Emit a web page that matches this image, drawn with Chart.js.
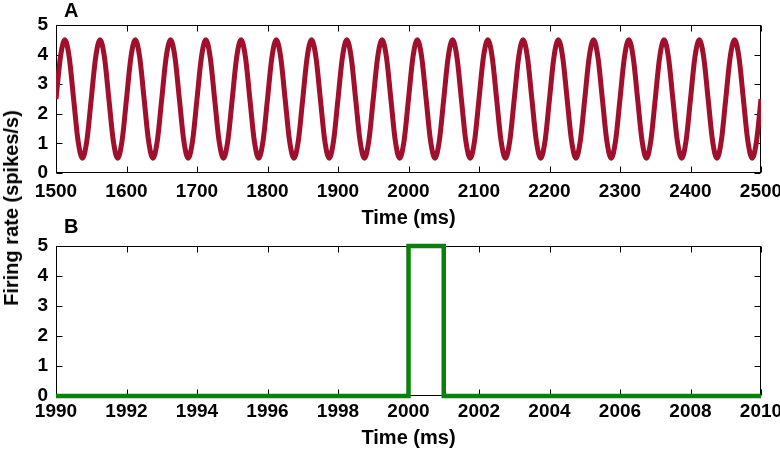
<!DOCTYPE html>
<html>
<head>
<meta charset="utf-8">
<script src="https://cdn.jsdelivr.net/npm/chart.js@4.4.0/dist/chart.umd.min.js"></script>
<style>
  body { margin: 0; background: #fff; }
  #wrap { position: relative; width: 780px; height: 451px; font-family: "Liberation Sans", Arial, sans-serif; font-weight: bold; color: #000; }
  canvas { position: absolute; left: 0; }
  #cvA { top: 0; }
  #cvB { top: 230px; }
  #ylab { position: absolute; left: 11px; top: 208px; font-size: 20px; line-height: 1; white-space: nowrap;
          transform: translate(-50%, -50%) rotate(-90deg); }
</style>
</head>
<body>
<div id="wrap">
  <canvas id="cvA" width="780" height="230"></canvas>
  <canvas id="cvB" width="780" height="221"></canvas>
  <div style="position:absolute;left:64px;top:0px;font-size:20px;line-height:1;font-weight:bold">A</div>
  <div style="position:absolute;left:64px;top:216px;font-size:20px;line-height:1;font-weight:bold">B</div>
  <div id="ylab">Firing rate (spikes/s)</div>
</div>
<script>
// panel A: tasa oscilante (8 puntos por ciclo de 50 ms)
const timeA = [
  1500, 1506.25, 1512.5, 1518.75, 1525, 1531.25, 1537.5, 1543.75,
  1550, 1556.25, 1562.5, 1568.75, 1575, 1581.25, 1587.5, 1593.75,
  1600, 1606.25, 1612.5, 1618.75, 1625, 1631.25, 1637.5, 1643.75,
  1650, 1656.25, 1662.5, 1668.75, 1675, 1681.25, 1687.5, 1693.75,
  1700, 1706.25, 1712.5, 1718.75, 1725, 1731.25, 1737.5, 1743.75,
  1750, 1756.25, 1762.5, 1768.75, 1775, 1781.25, 1787.5, 1793.75,
  1800, 1806.25, 1812.5, 1818.75, 1825, 1831.25, 1837.5, 1843.75,
  1850, 1856.25, 1862.5, 1868.75, 1875, 1881.25, 1887.5, 1893.75,
  1900, 1906.25, 1912.5, 1918.75, 1925, 1931.25, 1937.5, 1943.75,
  1950, 1956.25, 1962.5, 1968.75, 1975, 1981.25, 1987.5, 1993.75,
  2000, 2006.25, 2012.5, 2018.75, 2025, 2031.25, 2037.5, 2043.75,
  2050, 2056.25, 2062.5, 2068.75, 2075, 2081.25, 2087.5, 2093.75,
  2100, 2106.25, 2112.5, 2118.75, 2125, 2131.25, 2137.5, 2143.75,
  2150, 2156.25, 2162.5, 2168.75, 2175, 2181.25, 2187.5, 2193.75,
  2200, 2206.25, 2212.5, 2218.75, 2225, 2231.25, 2237.5, 2243.75,
  2250, 2256.25, 2262.5, 2268.75, 2275, 2281.25, 2287.5, 2293.75,
  2300, 2306.25, 2312.5, 2318.75, 2325, 2331.25, 2337.5, 2343.75,
  2350, 2356.25, 2362.5, 2368.75, 2375, 2381.25, 2387.5, 2393.75,
  2400, 2406.25, 2412.5, 2418.75, 2425, 2431.25, 2437.5, 2443.75,
  2450, 2456.25, 2462.5, 2468.75, 2475, 2481.25, 2487.5, 2493.75,
  2500
];
const rateA = [
  2.5, 3.91, 4.5, 3.91, 2.5, 1.09, 0.5, 1.09,
  2.5, 3.91, 4.5, 3.91, 2.5, 1.09, 0.5, 1.09,
  2.5, 3.91, 4.5, 3.91, 2.5, 1.09, 0.5, 1.09,
  2.5, 3.91, 4.5, 3.91, 2.5, 1.09, 0.5, 1.09,
  2.5, 3.91, 4.5, 3.91, 2.5, 1.09, 0.5, 1.09,
  2.5, 3.91, 4.5, 3.91, 2.5, 1.09, 0.5, 1.09,
  2.5, 3.91, 4.5, 3.91, 2.5, 1.09, 0.5, 1.09,
  2.5, 3.91, 4.5, 3.91, 2.5, 1.09, 0.5, 1.09,
  2.5, 3.91, 4.5, 3.91, 2.5, 1.09, 0.5, 1.09,
  2.5, 3.91, 4.5, 3.91, 2.5, 1.09, 0.5, 1.09,
  2.5, 3.91, 4.5, 3.91, 2.5, 1.09, 0.5, 1.09,
  2.5, 3.91, 4.5, 3.91, 2.5, 1.09, 0.5, 1.09,
  2.5, 3.91, 4.5, 3.91, 2.5, 1.09, 0.5, 1.09,
  2.5, 3.91, 4.5, 3.91, 2.5, 1.09, 0.5, 1.09,
  2.5, 3.91, 4.5, 3.91, 2.5, 1.09, 0.5, 1.09,
  2.5, 3.91, 4.5, 3.91, 2.5, 1.09, 0.5, 1.09,
  2.5, 3.91, 4.5, 3.91, 2.5, 1.09, 0.5, 1.09,
  2.5, 3.91, 4.5, 3.91, 2.5, 1.09, 0.5, 1.09,
  2.5, 3.91, 4.5, 3.91, 2.5, 1.09, 0.5, 1.09,
  2.5, 3.91, 4.5, 3.91, 2.5, 1.09, 0.5, 1.09,
  2.5
];

// panel B: pulso de 1 ms en t = 2000
const timeB = [1990, 2000, 2000, 2001, 2001, 2010];
const rateB = [0, 0, 5, 5, 0, 0];

// ejes
const xRangeA = [1500, 2500], xStepA = 100;
const xRangeB = [1990, 2010], xStepB = 2;
const yRange = [0, 5], yStep = 1;

Chart.defaults.font.family = '"Liberation Sans", Arial, sans-serif';
Chart.defaults.font.weight = 'bold';
Chart.defaults.color = '#000';

// marco negro con ticks hacia adentro (estilo matlab)
const marcoTicks = {
  id: 'marcoTicks',
  beforeDatasetsDraw(chart) {
    const { ctx, chartArea: a, scales: { x, y } } = chart;
    const L = Math.round(a.left) + 0.5, R = Math.round(a.right) - 0.5;
    const T = Math.round(a.top) + 0.5, B = Math.round(a.bottom) - 0.5;
    ctx.save();
    ctx.strokeStyle = '#000';
    ctx.lineWidth = 1;
    ctx.strokeRect(L, T, R - L, B - T);
    ctx.beginPath();
    for (const t of x.ticks) {
      const px = Math.round(x.getPixelForValue(t.value)) + 0.5;
      ctx.moveTo(px, B); ctx.lineTo(px, B - 6);
      ctx.moveTo(px, T); ctx.lineTo(px, T + 6);
    }
    for (const t of y.ticks) {
      const py = Math.round(y.getPixelForValue(t.value)) + 0.5;
      ctx.moveTo(L, py); ctx.lineTo(L + 6, py);
      ctx.moveTo(R, py); ctx.lineTo(R - 6, py);
    }
    ctx.stroke();
    ctx.restore();
  }
};

function opciones(xRange, xStep, alto, padTop, tickPad, titlePad) {
  return {
    responsive: false,
    animation: false,
    events: [],
    layout: { padding: { left: 0, right: 19, top: padTop, bottom: 0 } },
    plugins: { legend: { display: false }, tooltip: { enabled: false } },
    scales: {
      x: {
        type: 'linear', min: xRange[0], max: xRange[1],
        grid: { display: false, drawTicks: false },
        border: { display: false },
        ticks: { stepSize: xStep, padding: tickPad, font: { size: 19 }, maxRotation: 0, autoSkip: false,
                 callback: (v) => String(v) },
        title: { display: true, text: 'Time (ms)', font: { size: 20, lineHeight: 1.2 },
                 padding: { top: 0, bottom: titlePad } },
        afterFit(s) { s.height = alto; s.paddingLeft = 0; s.paddingRight = 0; }
      },
      y: {
        min: yRange[0], max: yRange[1],
        grid: { display: false, drawTicks: false },
        border: { display: false },
        ticks: { stepSize: yStep, padding: 8, font: { size: 19 } },
        afterFit(s) { s.width = 56; s.paddingTop = 0; s.paddingBottom = 0; }
      }
    }
  };
}

new Chart(document.getElementById('cvA'), {
  type: 'line',
  data: {
    datasets: [{
      data: timeA.map((t, i) => ({ x: t, y: rateA[i] })),
      borderColor: '#a0102c',
      borderWidth: 5,
      pointRadius: 0,
      cubicInterpolationMode: 'monotone'
    }]
  },
  options: opciones(xRangeA, xStepA, 57, 25, 7, 0),
  plugins: [marcoTicks]
});

new Chart(document.getElementById('cvB'), {
  type: 'line',
  data: {
    datasets: [{
      data: timeB.map((t, i) => ({ x: t, y: rateB[i] })),
      borderColor: '#0b800b',
      borderWidth: 4.5,
      pointRadius: 0,
      tension: 0,
      clip: false,
      borderJoinStyle: 'miter'
    }]
  },
  options: opciones(xRangeB, xStepB, 55, 16, 4, 1),
  plugins: [marcoTicks]
});
</script>
</body>
</html>
